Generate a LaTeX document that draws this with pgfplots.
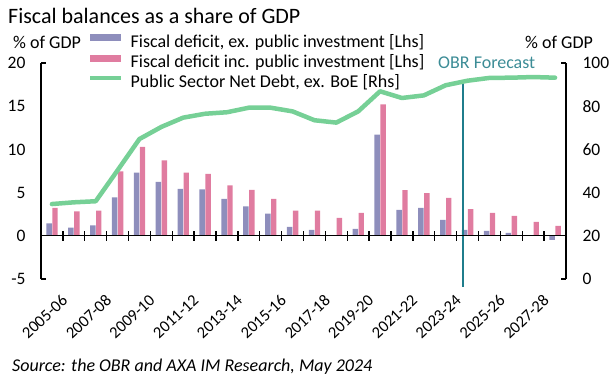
\documentclass[border=0pt]{standalone}
\usepackage{fontspec}
\setmainfont{Carlito}
\usepackage{pgfplots}
\pgfplotsset{compat=1.18}
\usepackage{pgfplotstable}

\definecolor{bluec}{RGB}{142,142,188}
\definecolor{pinkc}{RGB}{224,124,160}
\definecolor{greenc}{RGB}{118,208,150}
\definecolor{tealc}{RGB}{31,125,140}
\definecolor{tealt}{RGB}{60,140,150}

\pgfplotstableread{
i b p d
0 1.43 3.24 34.7
1 0.96 2.82 35.5
2 1.20 2.90 36.0
3 4.44 7.45 50.3
4 7.30 10.30 64.8
5 6.25 8.72 70.4
6 5.44 7.30 74.7
7 5.36 7.18 76.5
8 4.28 5.83 77.2
9 3.40 5.32 79.3
10 2.58 4.28 79.3
11 1.04 2.90 77.6
12 0.70 2.90 73.5
13 0.05 2.08 72.4
14 0.80 2.66 77.6
15 11.70 15.20 86.9
16 3.00 5.30 83.8
17 3.24 4.94 85.0
18 1.85 4.40 89.7
19 0.70 3.10 91.8
20 0.58 2.66 93.1
21 0.35 2.30 93.2
22 0.05 1.60 93.5
23 -0.46 1.16 93.2
}\data

\newcommand{\lfont}{\fontsize{18bp}{21bp}\selectfont}
\newcommand{\tfont}{\fontsize{17.5bp}{20bp}\selectfont}
\newcommand{\xfont}{\fontsize{16.5bp}{19bp}\selectfont}

\begin{document}
\begin{tikzpicture}
\useasboundingbox (-41bp,-100bp) rectangle (573bp,279bp);
\begin{axis}[
  scale only axis, width=525bp, height=216bp,
  xmin=-0.5, xmax=23.5, ymin=-5, ymax=20,
  axis y line*=left, axis x line*=bottom,
  x axis line style={draw=none},
  axis line style={line width=1.3bp, black},
  ytick={-5,0,...,20},
  xtick={0,2,...,22},
  xticklabels={2005-06,2007-08,2009-10,2011-12,2013-14,2015-16,2017-18,2019-20,2021-22,2023-24,2025-26,2027-28},
  major tick length=0pt,
  tick style={draw=none},
  yticklabel style={font=\tfont},
  /pgf/number format/assume math mode=true,
  yticklabel shift=12bp,
  xticklabel style={font=\xfont, rotate=43, anchor=north east, yshift=-13.5bp},
  ybar, bar width=0.25,
  legend cell align=left,
  legend style={at={(0.0895,1.135)}, anchor=north west, draw=none, fill=none,
    font=\lfont, inner sep=0pt, row sep=4bp,
    nodes={inner sep=0pt, text height=12.5bp, text depth=3.5bp},
    /tikz/every odd column/.append style={column sep=7bp}},
]
\addplot[fill=bluec, draw=none, bar shift=-0.13,
  legend image code/.code={\fill[bluec] (0bp,1.5bp) rectangle (31bp,8.5bp);}]
  table[x=i, y=b]{\data};
\addlegendentry{Fiscal deficit, ex. public investment [Lhs]}
\addplot[fill=pinkc, draw=none, bar shift=0.14,
  legend image code/.code={\fill[pinkc] (0bp,1.5bp) rectangle (31bp,8.5bp);}]
  table[x=i, y=p]{\data};
\addlegendentry{Fiscal deficit inc. public investment [Lhs]}
\addlegendimage{legend image code/.code={\draw[greenc, line width=4.5bp] (0bp,5bp) -- (31bp,5bp);}}
\addlegendentry{Public Sector Net Debt, ex. BoE [Rhs]}
\end{axis}
\begin{axis}[
  scale only axis, width=525bp, height=216bp,
  xmin=-0.5, xmax=23.5, ymin=0, ymax=100,
  axis y line*=right, axis x line=none,
  axis line style={line width=1.3bp, black},
  ytick={0,20,...,100},
  major tick length=0pt,
  tick style={draw=none},
  yticklabel style={font=\tfont},
  /pgf/number format/assume math mode=true,
  yticklabel shift=13bp,
  clip=false,
]
\addplot[tealc, line width=1.5bp, mark=none] coordinates {(18.8,90.7) (18.8,-3.7)};
\addplot[greenc, line width=4.5bp, line join=round, line cap=round, mark=none] table[x=i, y=d]{\data};
\end{axis}
% zero line with cross ticks and axis end stubs
\draw[line width=1.3bp] (0,43.2bp) -- (525bp,43.2bp);
\foreach \k in {1,...,23} \draw[line width=1.3bp] (\k*21.875bp,38bp) -- ++(0,10.4bp);
\draw[line width=1.3bp] (0,0) -- (5bp,0) (0,216bp) -- (5bp,216bp);
\draw[line width=1.3bp] (525bp,0) -- (520bp,0) (525bp,216bp) -- (520bp,216bp);
% texts
\node[anchor=base west, inner sep=0pt, font=\fontsize{22bp}{26bp}\selectfont] at (-33bp,255bp) {Fiscal balances as a share of GDP};
\node[anchor=west, inner sep=0pt, font=\lfont] at (-28bp,237bp) {\% of GDP};
\node[anchor=west, inner sep=0pt, font=\lfont] at (484bp,237bp) {\% of GDP};
\node[anchor=west, inner sep=0pt, font=\lfont, text=tealt] at (397bp,216bp) {OBR Forecast};
\node[anchor=west, inner sep=0pt, font=\lfont\itshape] at (-29bp,-88bp) {Source: the OBR and AXA IM Research, May 2024};
\end{tikzpicture}
\end{document}
